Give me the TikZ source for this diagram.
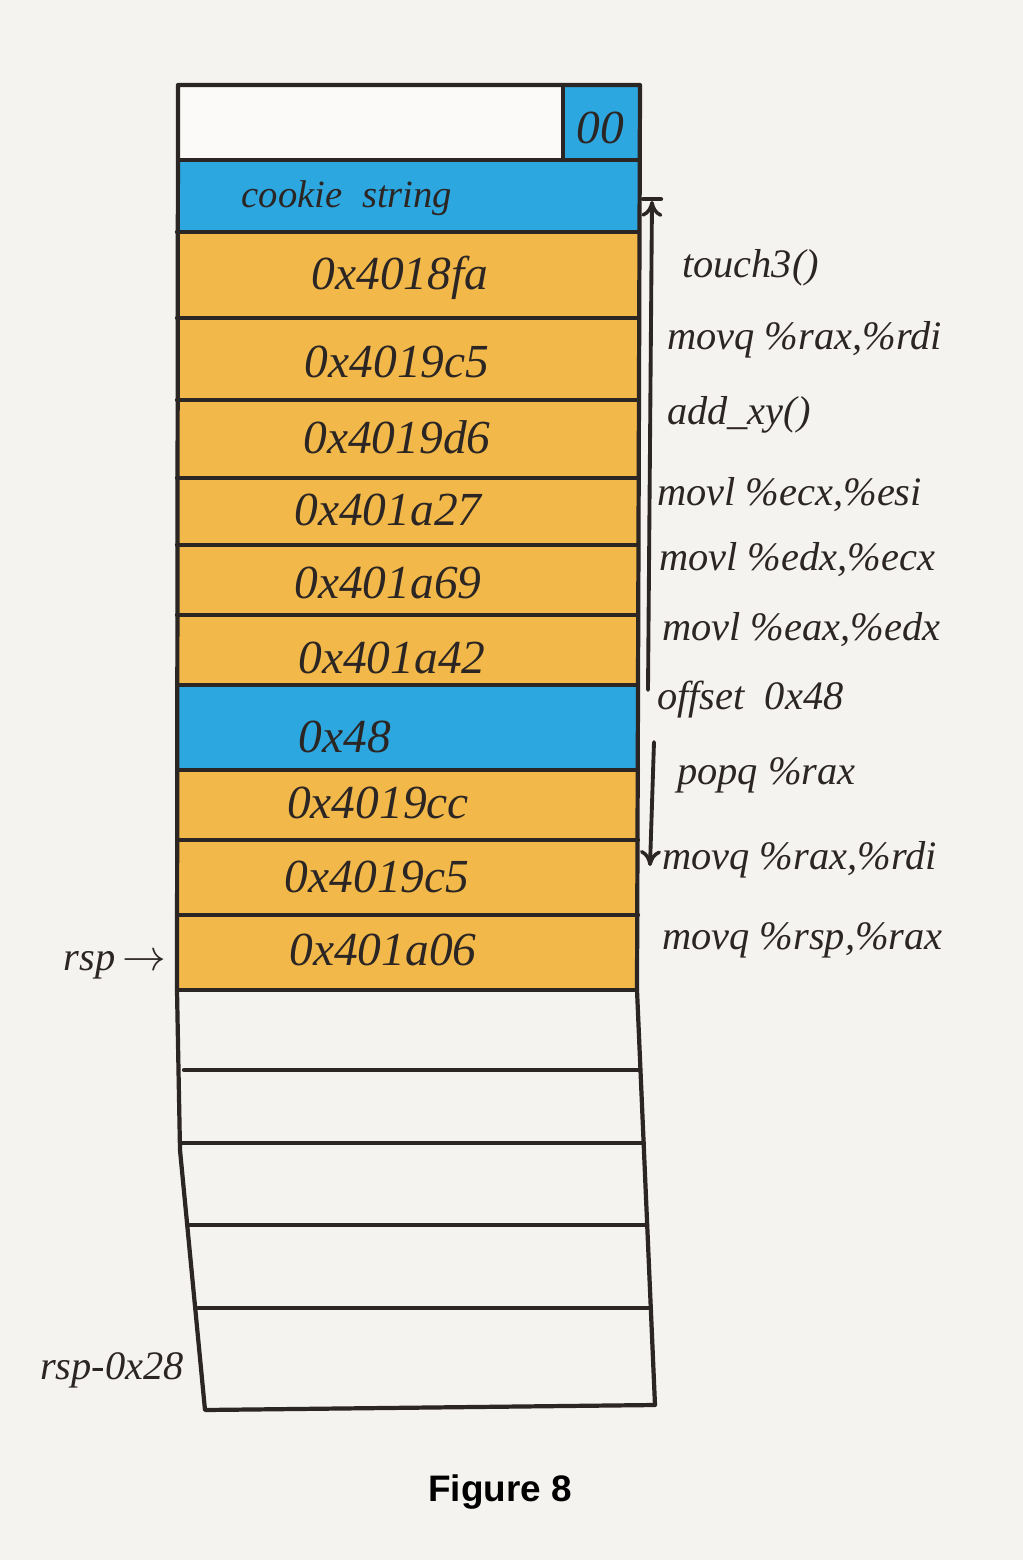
\documentclass[tikz,border=0pt]{standalone}
\usepackage{fontspec}
\setmainfont{Liberation Serif}
\newfontfamily\capfont{Liberation Sans}
\usetikzlibrary{arrows.meta}

\definecolor{paper}{HTML}{F4F3EF}
\definecolor{slotorange}{HTML}{F2B94A}
\definecolor{slotblue}{HTML}{2DA7DF}
\definecolor{ink}{HTML}{2B2523}

\begin{document}
\begin{tikzpicture}[x=0.02cm, y=-0.02cm, line width=2.4pt, line join=round, line cap=round, draw=ink,
   hand/.style={font=\fontsize{27}{30}\selectfont\itshape, text=ink, inner sep=0pt},
   op/.style={font=\fontsize{23}{26}\selectfont\itshape, text=ink, anchor=west, inner sep=0pt},
   pointer/.style={-{To[length=9pt,width=12pt,line width=2pt]}, line width=2.2pt}]

   \fill[paper] (0,0) rectangle (1023,1560);
   \useasboundingbox (0,0) rectangle (1023,1560);

   \fill[white!60!paper] (178,85) rectangle (563,160);
   \fill[slotblue] (563,85) rectangle (640,160);
   \foreach \a/\b/\c in {160/232/slotblue, 232/318/slotorange, 318/400/slotorange, 400/478/slotorange,
                          478/545/slotorange, 545/615/slotorange, 615/685/slotorange, 685/770/slotblue,
                          770/840/slotorange, 840/915/slotorange, 915/990/slotorange}
     \fill[\c] (177,\a) rectangle (638,\b);

   \foreach \y/\l/\r in {160/178/640, 232/177/639, 318/177/638, 400/177/638, 478/177/638, 545/177/638,
                         615/177/638, 685/177/638, 770/177/638, 840/177/638, 915/177/638, 990/177/637,
                         1070/184/640, 1143/180/644, 1225/190/647, 1308/198/651}
     \draw (\l,\y) -- (\r,\y);
   \draw (178,85) -- (640,85) -- (637,990) -- (655,1405) -- (205,1410)
         -- (180,1150) -- (177,990) -- cycle;
   \draw (563,85) -- (563,160);

   \node[hand] (zero) at (600,128) {00};
   \node[hand, font=\fontsize{22}{26}\selectfont\itshape] (cookie) at (347,198) {cookie\ \ string};
   \foreach [count=\i] \x/\y/\t in {400/278/0x4018fa, 397/362/0x4019c5, 397/437/0x4019d6, 388/510/0x401a27,
                                    388/583/0x401a69, 392/658/0x401a42, 345/737/0x48, 378/803/0x4019cc,
                                    377/877/0x4019c5, 383/950/0x401a06}
     \node[hand] (slot\i) at (\x,\y) {\t};

   \foreach [count=\i] \x/\y/\t in {680/268/touch3(), 665/340/{movq \%rax,\%rdi}, 665/415/add\_xy(),
                                    655/495/{movl \%ecx,\%esi}, 657/560/{movl \%edx,\%ecx},
                                    660/630/{movl \%eax,\%edx}, 655/700/offset\ \ 0x48, 675/775/popq \%rax,
                                    660/860/{movq \%rax,\%rdi}, 660/940/{movq \%rsp,\%rax}}
     \node[op] (op\i) at (\x,\y) {\t};

   \node[op, anchor=center] (rsp) at (115,965) {rsp$\,\rightarrow$};
   \node[op, anchor=center] (rspend) at (112,1370) {rsp-0x28};

   \coordinate (up0) at (648,690);
   \coordinate (up1) at (652,201);
   \coordinate (tickl) at (643,199);
   \coordinate (tickr) at (661,199);
   \coordinate (dn0) at (654,742);
   \coordinate (dn1) at (650,866);
   \draw[pointer] (up0) -- (up1);
   \draw (tickl) -- (tickr);
   \draw[pointer] (dn0) -- (dn1);

   \node[font=\capfont\bfseries\fontsize{21}{24}\selectfont] (caption) at (500,1492) {Figure 8};
\end{tikzpicture}
\end{document}
